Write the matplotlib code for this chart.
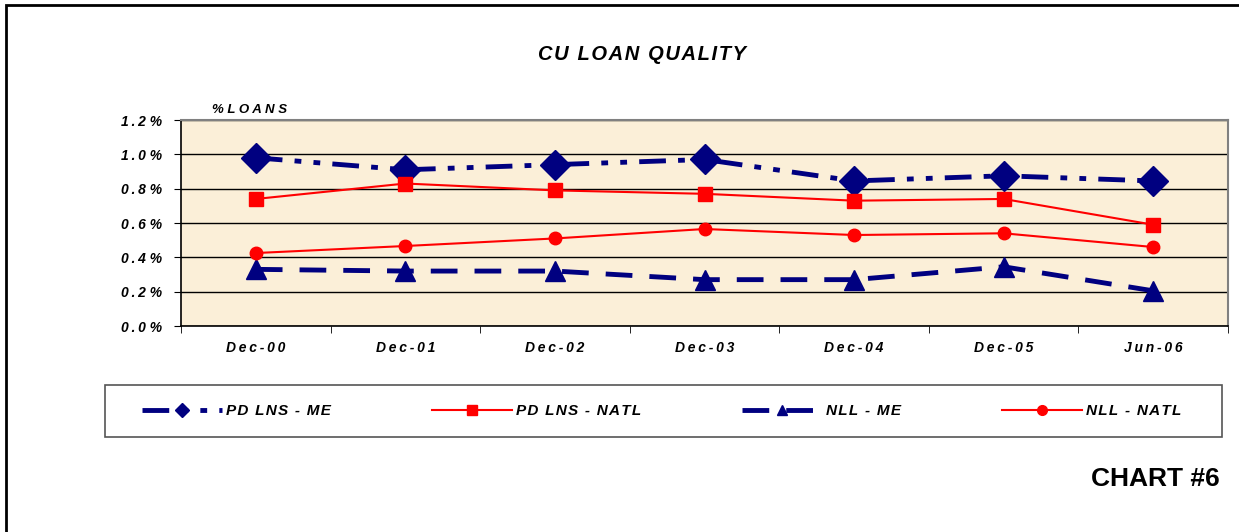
import numpy as np
import matplotlib.pyplot as plt
from matplotlib.patches import Rectangle

# data (percent of loans)
periods = ["Dec-00", "Dec-01", "Dec-02", "Dec-03", "Dec-04", "Dec-05", "Jun-06"]
pd_lns_me = [0.98, 0.91, 0.94, 0.97, 0.845, 0.875, 0.845]
pd_lns_natl = [0.74, 0.83, 0.79, 0.77, 0.73, 0.74, 0.59]
nll_me = [0.33, 0.32, 0.32, 0.27, 0.27, 0.345, 0.205]
nll_natl = [0.425, 0.466, 0.51, 0.565, 0.53, 0.54, 0.46]
y_ticks = [0.0, 0.2, 0.4, 0.6, 0.8, 1.0, 1.2]
series_names = ["PD LNS - ME", "PD LNS - NATL", "NLL - ME", "NLL - NATL"]

navy = "#000080"
red = "#FF0000"
font = ["Liberation Sans", "DejaVu Sans"]


def spaced(s, sep="\u2009"):
    # the original uses letter spacing, fake it with thin spaces
    return sep.join(s)


W, H = 1239, 532
fig = plt.figure(figsize=(W / 100, H / 100), dpi=100)

# outer frame (only top and left edges visible in the original)
fig.patches.append(Rectangle((6 / W, -0.1), 1.2, 1 - 5 / H + 0.1, transform=fig.transFigure,
                             fill=False, edgecolor="black", linewidth=2, clip_on=False))

ax = fig.add_axes([181 / W, 1 - 326 / H, (1228 - 181) / W, 206 / H])
ax.set_facecolor("#FBEFD8")

x = np.arange(len(periods))

l1, = ax.plot(x, pd_lns_me, color=navy, lw=3.5, marker="D", ms=15, label=spaced(series_names[0], "\u200a"))
l1.set_dashes([5.5, 2.5, 1.4, 2.5, 1.4, 2.5])
l2, = ax.plot(x, pd_lns_natl, color=red, lw=1.5, marker="s", ms=10, label=spaced(series_names[1], "\u200a"))
l3, = ax.plot(x, nll_me, color=navy, lw=3.5, marker="^", ms=14, label=spaced(series_names[2], "\u200a"))
l3.set_dashes([5.5, 3.5])
l4, = ax.plot(x, nll_natl, color=red, lw=1.5, marker="o", ms=9, label=spaced(series_names[3], "\u200a"))

ax.set_xlim(-0.5, len(periods) - 0.5)
ax.set_ylim(0, 1.2)
ax.set_yticks(y_ticks)
ax.set_yticklabels([spaced("%.1f" % v) + " %" for v in y_ticks], fontfamily=font,
                   fontweight="bold", fontstyle="italic", fontsize=10)
ax.set_xticks(x)
ax.set_xticklabels([spaced(p) for p in periods], fontfamily=font, fontweight="bold",
                   fontstyle="italic", fontsize=10)
ax.set_xticks(np.arange(-0.5, len(periods)), minor=True)
ax.tick_params(axis="x", which="major", length=0, pad=11)
ax.tick_params(axis="x", which="minor", length=5, direction="out")
ax.tick_params(axis="y", length=5, direction="out", pad=8.5)
ax.grid(axis="y", color="black", lw=1)
ax.set_axisbelow(True)
for s in ["top", "right"]:
    ax.spines[s].set_color("gray")
    ax.spines[s].set_linewidth(1.5)
ax.spines["left"].set_linewidth(1.2)
ax.spines["bottom"].set_linewidth(1.2)

fig.text(642 / W, 1 - 54 / H, spaced("CU LOAN QUALITY", "\u200a"), ha="center", va="center",
         fontfamily=font, fontweight="bold", fontstyle="italic", fontsize=14.5)
fig.text(212 / W, 1 - 110 / H, "% L O A N S", ha="left", va="center", fontfamily=font,
         fontweight="bold", fontstyle="italic", fontsize=9.5)
fig.text(1220 / W, 1 - 479 / H, "CHART #6", ha="right", va="center", fontfamily=font,
         fontweight="bold", fontsize=19)

# legend box
fig.patches.append(Rectangle((105 / W, 1 - 437 / H), (1222 - 105) / W, 52 / H,
                             transform=fig.transFigure, fill=False, edgecolor="#555555", lw=1.2))
leg = fig.legend(handles=[l1, l2, l3, l4], loc="center", ncol=4,
                 bbox_to_anchor=(662 / W, 1 - 411 / H), frameon=False,
                 handlelength=5.2, handletextpad=0.3, columnspacing=6.6,
                 prop={"family": font, "weight": "bold", "style": "italic", "size": 11})
for h in leg.legend_handles:
    h.set_markersize(7)

fig.savefig("out.png", dpi=100)
